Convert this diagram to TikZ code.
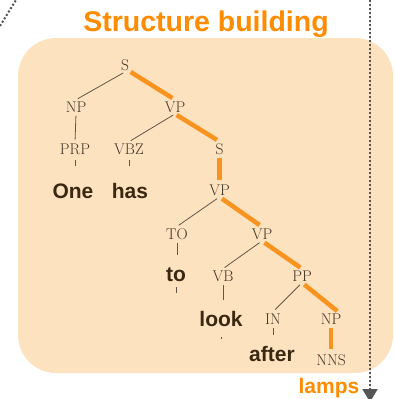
\documentclass[tikz,border=0pt]{standalone}
\usepackage{fontspec}
\newfontfamily\hv{Liberation Sans}
\usetikzlibrary{arrows.meta,calc}
\definecolor{boxfill}{RGB}{253,226,192}
\definecolor{ttl}{RGB}{255,140,0}
\definecolor{hl}{RGB}{247,147,30}
\definecolor{tagc}{RGB}{66,54,40}
\definecolor{linec}{RGB}{100,86,68}
\definecolor{wordc}{RGB}{58,40,18}
\definecolor{dotc}{RGB}{85,85,85}
\tikzset{
  tag/.style={font=\fontsize{15.5}{15.5}\selectfont, text=tagc, anchor=base, inner sep=1.5pt},
  word/.style={font=\hv\bfseries\fontsize{21}{21}\selectfont, text=wordc, anchor=base, inner sep=1pt},
  edge/.style={draw=linec, line width=0.8pt},
  hledge/.style={draw=hl, line width=4.5pt},
  dotline/.style={draw=dotc, line width=2pt, dash pattern=on 2pt off 2pt},
}
\begin{document}
\begin{tikzpicture}[x=1pt,y=-1pt]
\useasboundingbox (0,0) rectangle (394,399);
% box
\path[fill=boxfill, rounded corners=38pt] (18,38) rectangle (393,373);
% dotted lines
\coordinate (dtop) at (370,0);
\coordinate (dbot) at (370,402);
\draw[dotline, -{Triangle[width=15pt,length=13pt]}, fill=dotc] (dtop) -- (dbot);
\coordinate (d1) at (0,26);
\coordinate (d2) at (16,0);
\draw[dotline] (d1) -- (d2);
% title
\node[anchor=base, font=\hv\bfseries\fontsize{28.5}{30}\selectfont, text=ttl, inner sep=0pt] (title) at (206,31) {Structure building};
% tags
\node[tag] (S) at (125,70) {S};
\node[tag] (NP) at (76,112) {NP};
\node[tag] (VP) at (175,112) {VP};
\node[tag] (PRP) at (75,154) {PRP};
\node[tag] (VBZ) at (129,154) {VBZ};
\node[tag] (S2) at (219.5,154) {S};
\node[tag] (VP2) at (219.5,195) {VP};
\node[tag] (TO) at (177,239) {TO};
\node[tag] (VP3) at (262,239) {VP};
\node[tag] (VB) at (223,281) {VB};
\node[tag] (PP) at (302,281) {PP};
\node[tag] (IN) at (273,324) {IN};
\node[tag] (NP2) at (331,324) {NP};
\node[tag] (NNS) at (331,365) {NNS};
% words
\node[word] (One) at (73,198) {One};
\node[word] (has) at (130,198) {has};
\node[word] (to) at (176,281) {to};
\node[word] (look) at (221,326) {look};
\node[word] (after) at (272,361) {after};
\node[word, text=ttl] (lamps) at (329,393) {lamps};
% thin edges
\draw[edge, shorten <=2pt, shorten >=2pt] (S.south) -- (NP.north);
\draw[edge, shorten <=2pt, shorten >=2pt] (NP.south) -- (PRP.north);
\draw[edge, shorten <=2pt, shorten >=2pt] (VP.south) -- (VBZ.north);
\draw[edge, shorten <=3pt, shorten >=2pt] (VP2.south) -- (TO.north);
\draw[edge, shorten <=3pt, shorten >=2pt] (VP3.south) -- (VB.north);
\draw[edge, shorten <=3pt, shorten >=3pt] (PP.south) -- (IN.north);
% ticks
\draw[edge] ($(PRP.south)+(0,4.5)$) -- ++(0,6);
\draw[edge] ($(VBZ.south)+(0,4.5)$) -- ++(0,6);
\draw[edge] ($(TO.south)+(0,2.5)$) -- ++(0,12);
\draw[edge] ($(to.south)+(0,5)$) -- ++(0,6);
\draw[edge] ($(VB.south)+(0,2.5)$) -- ++(0,15);
\draw[edge] ($(look.south)+(0,10)$) -- ++(0,1.5);
\draw[edge] ($(IN.south)+(0,2.5)$) -- ++(0,7);
% highlighted edges
\draw[hledge, shorten >=3pt] (S.south east) -- (VP.north);
\draw[hledge, shorten <=2pt, shorten >=3pt] (VP.south) -- (S2.north);
\draw[hledge, shorten <=2pt, shorten >=3pt] (S2.south) -- (VP2.north);
\draw[hledge, shorten <=3pt, shorten >=3pt] (VP2.south) -- (VP3.north);
\draw[hledge, shorten <=3pt, shorten >=2pt] (VP3.south) -- (PP.north);
\draw[hledge, shorten <=3pt, shorten >=1pt] (PP.south) -- ([xshift=7pt]NP2.north);
\draw[hledge, shorten <=2pt, shorten >=3pt] (NP2.south) -- (NNS.north);
\end{tikzpicture}
\end{document}
